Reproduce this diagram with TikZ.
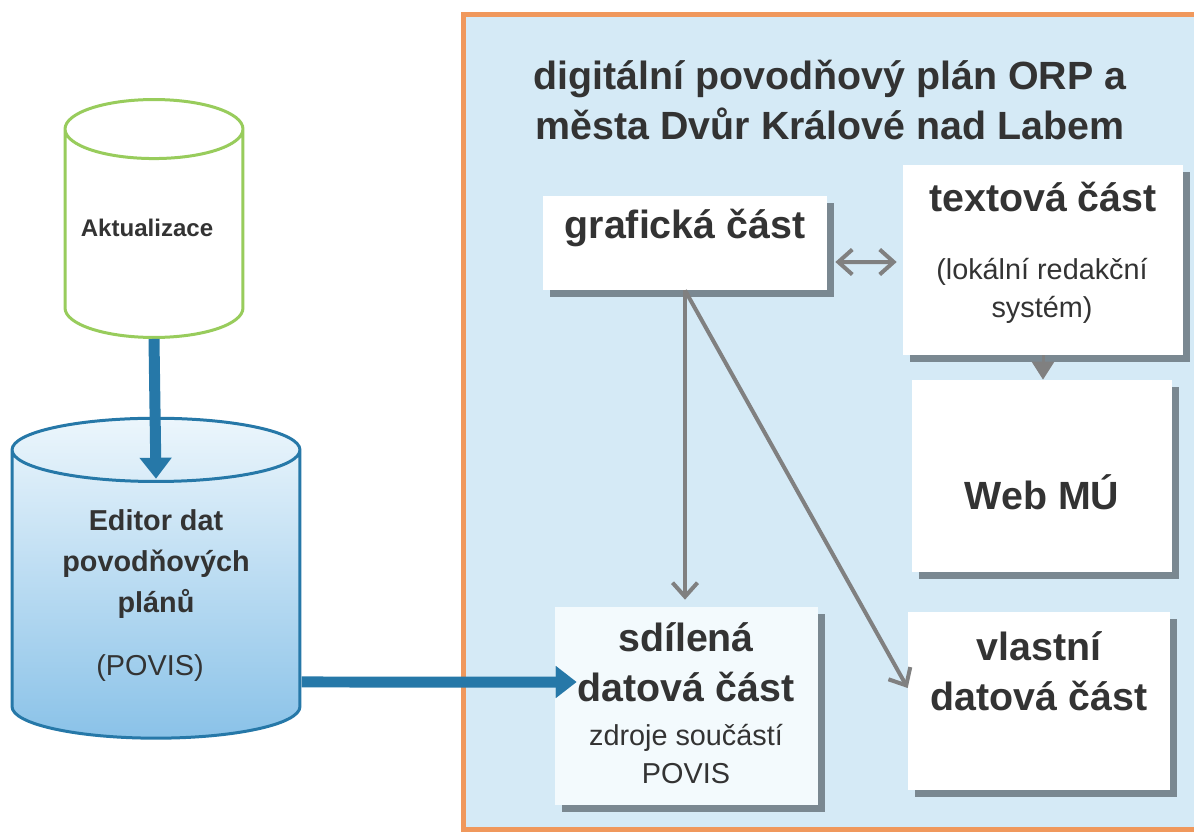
\documentclass[tikz,border=0pt]{standalone}
\usepackage{fontspec}
\setmainfont{Liberation Sans}
\usetikzlibrary{arrows.meta,positioning,shapes.geometric,shadows}
\definecolor{framec}{RGB}{240,152,92}
\definecolor{panelc}{RGB}{213,234,246}
\definecolor{shadec}{RGB}{122,136,145}
\definecolor{linkc}{RGB}{128,128,128}
\definecolor{povisc}{RGB}{38,120,168}
\definecolor{aktc}{RGB}{152,204,92}
\definecolor{txtc}{RGB}{51,51,51}
\definecolor{cyltop}{RGB}{236,246,252}
\definecolor{cylbot}{RGB}{138,194,232}
\definecolor{sdilc}{RGB}{243,250,253}

\tikzset{
  card/.style={fill=white, drop shadow={shadow xshift=0.14cm, shadow yshift=-0.14cm, fill=shadec, opacity=1}},
  big/.style={font=\fontsize{22.4}{28.5}\selectfont\bfseries, text=txtc, align=center},
  note/.style={font=\fontsize{16.4}{21.5}\selectfont, text=txtc, align=center},
  db/.style={cylinder, shape border rotate=90, inner sep=3pt, line width=0.06cm},
  link/.style={draw=linkc, line width=0.08cm, arrows={-Straight Barb[length=0.28cm,width=0.5cm]}},
  both/.style={link, arrows={Straight Barb[length=0.28cm,width=0.5cm]-Straight Barb[length=0.28cm,width=0.5cm]}},
  drop/.style={draw=linkc, line width=0.06cm, arrows={-Triangle[length=0.36cm,width=0.44cm]}},
  feed/.style={draw=povisc, line width=0.22cm, arrows={-Triangle[length=0.42cm,width=0.62cm]}},
}

\begin{document}
\begin{tikzpicture}[x=0.02cm,y=-0.02cm]
  \useasboundingbox (0,0) rectangle (1194,833);
  % panel of the ORP plan
  \draw[framec, line width=0.1cm, fill=panelc] (463,14) rectangle (1230,829);
  \node[big] (title) at (830,100) {digitální povodňový plán ORP a\\města Dvůr Králové nad Labem};

  % cylinders on the left
  \node[db, draw=aktc, fill=white, aspect=5.6, minimum width=3.56cm, minimum height=4.76cm] (akt) at (154,239) {};
  \node[font=\fontsize{13.7}{16}\selectfont\bfseries, text=txtc] (aktT) at (147,228) {Aktualizace};
  \node[db, draw=povisc, top color=cyltop, bottom color=cylbot, aspect=6, minimum width=5.76cm, minimum height=6.4cm] (edit) at (156,599) {};
  \node[font=\fontsize{16.4}{23.2}\selectfont\bfseries, text=txtc, align=center] (editT) at (156,564) {Editor dat\\povodňových\\plánů};
  \node[note] (editN) at (150,668) {(POVIS)};

  % boxes
  \node[card, minimum width=5.68cm, minimum height=1.88cm] (graf) at (685,243) {};
  \node[big] (grafT) at (685,228) {grafická část};
  \node[card, minimum width=5.6cm, minimum height=3.8cm] (textova) at (1043,260) {};
  \node[big] (textT) at (1043,197) {textová část};
  \node[note] (textN) at (1042,291) {(lokální redakční\\systém)};
  \node[card, minimum width=5.2cm, minimum height=3.84cm] (web) at (1042,476) {};
  \node[big] (webT) at (1042,492) {Web MÚ};
  \node[card, minimum width=5.24cm, minimum height=3.56cm] (vlastni) at (1039,701) {};
  \node[big] (vlastT) at (1039,671) {vlastní\\datová část};
  \node[card, fill=sdilc, minimum width=5.26cm, minimum height=3.96cm] (sdil) at (686.5,706) {};
  \node[big] (sdilT) at (686,662) {sdílená\\datová část};
  \node[note] (sdilN) at (686,754) {zdroje součástí\\POVIS};

  % connectors
  \draw[both] ([xshift=0.16cm,yshift=-0.38cm]graf.east) -- ([xshift=-0.12cm,yshift=-0.04cm]textova.west);
  \draw[drop] (textova.south) -- (textova.south |- web.north);
  \draw[link] (graf.south) -- ([yshift=0.14cm]graf.south |- sdil.north);
  \draw[link] (graf.south) -- ([yshift=0.26cm]vlastni.west);
  \draw[feed] (akt.bottom) -- ([yshift=-1.24cm]edit.top);
  \draw[feed] ([yshift=-1.66cm]edit.east) -- ([xshift=0.44cm,yshift=0.48cm]sdil.west);
\end{tikzpicture}
\end{document}
